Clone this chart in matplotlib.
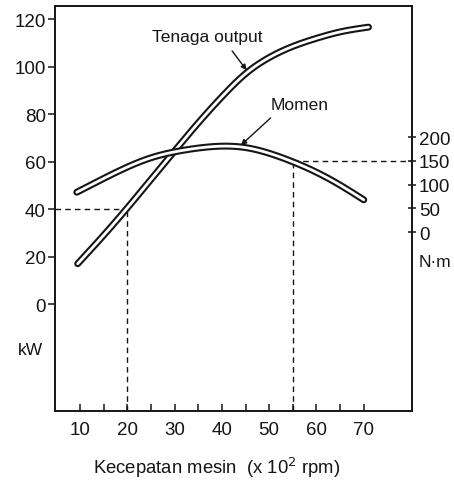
import matplotlib
matplotlib.use("Agg")
import matplotlib.pyplot as plt
import numpy as np

plt.rcParams['font.family'] = ['Liberation Sans', 'DejaVu Sans']

# Data
rpm_power = [9.5, 15, 20, 25, 30, 35, 40, 45, 50, 55, 60, 65, 71]
power_kw = [17, 29, 40.5, 52.5, 64.5, 76.3, 87.3, 97, 103.8, 108.5, 111.9, 114.6, 116.6]

rpm_torque = [9.3, 15, 20, 25, 30, 35, 40, 45, 50, 55, 60, 65, 70]
torque_nm = [84, 113, 137, 156.5, 169, 177, 181, 178, 166, 148, 126, 99, 68]

x_ticks = [10, 20, 30, 40, 50, 60, 70]
x_minor = [15, 25, 35, 45, 55, 65]
kw_ticks = [0, 20, 40, 60, 80, 100, 120]
nm_ticks = [0, 50, 100, 150, 200]

ref_rpm_low, ref_kw = 20, 40
ref_rpm_high, ref_nm = 55, 150

KW_LIM = (-45, 125.5)
NM_OFFSET_KW = 30.3   # kW value where 0 N·m lies
KW_PER_NM = 0.2

ink = '#151515'

fig = plt.figure(figsize=(4.54, 4.81), dpi=100)
ax = fig.add_axes([55/454, 1-412/481, (412-55)/454, (412-7)/481])
ax2 = ax.twinx()

ax.set_xlim(4.7, 80.2)
ax.set_ylim(*KW_LIM)
ax2.set_ylim((KW_LIM[0]-NM_OFFSET_KW)/KW_PER_NM, (KW_LIM[1]-NM_OFFSET_KW)/KW_PER_NM)


def spline(xs, ys, n=300):
    """Natural cubic spline through the read points (for a smooth drawn curve)."""
    x = np.asarray(xs, float); y = np.asarray(ys, float)
    m = len(x)
    h = np.diff(x)
    A = np.zeros((m, m)); r = np.zeros(m)
    A[0, 0] = A[-1, -1] = 1
    for i in range(1, m-1):
        A[i, i-1] = h[i-1]; A[i, i] = 2*(h[i-1]+h[i]); A[i, i+1] = h[i]
        r[i] = 3*((y[i+1]-y[i])/h[i] - (y[i]-y[i-1])/h[i-1])
    c = np.linalg.solve(A, r)
    b = (y[1:]-y[:-1])/h - h*(2*c[:-1]+c[1:])/3
    d = (c[1:]-c[:-1])/(3*h)
    t = np.linspace(x[0], x[-1], n)
    idx = np.clip(np.searchsorted(x, t) - 1, 0, m-2)
    dt = t - x[idx]
    return t, y[idx] + b[idx]*dt + c[idx]*dt**2 + d[idx]*dt**3


def tube(a, x, y):
    a.plot(x, y, color=ink, lw=5.0, solid_capstyle='round', solid_joinstyle='round', zorder=3)
    a.plot(x, y, color='white', lw=2.0, solid_capstyle='round', solid_joinstyle='round', zorder=4)


tx, ty = spline(rpm_power, power_kw)
tube(ax, tx, ty)
mx, my = spline(rpm_torque, torque_nm)
tube(ax2, mx, my)

# dashed reference lines
dash = dict(color=ink, lw=1.0, dashes=(4, 3), zorder=2)
ax.plot([ax.get_xlim()[0], ref_rpm_low], [ref_kw, ref_kw], **dash)
ax.plot([ref_rpm_low, ref_rpm_low], [KW_LIM[0], ref_kw], **dash)
ax2.plot([ref_rpm_high, ax.get_xlim()[1]], [ref_nm, ref_nm], **dash)
ax2.plot([ref_rpm_high, ref_rpm_high], [ax2.get_ylim()[0], ref_nm], **dash)

# ticks
ax.set_xticks(x_ticks)
ax.set_xticks(x_minor, minor=True)
ax.tick_params(axis='x', which='both', direction='in', length=5, width=1.1, pad=7,
               labelsize=13.5, colors=ink, top=False)
ax.set_yticks(kw_ticks)
ax.tick_params(axis='y', direction='out', length=5, width=1.1, pad=1.5, labelsize=13.5, colors=ink)
ax2.set_yticks(nm_ticks)
ax2.tick_params(axis='y', direction='inout', length=6, width=1.1, pad=2, labelsize=13.5, colors=ink)

for a in (ax, ax2):
    for s in a.spines.values():
        s.set_linewidth(1.2)
        s.set_color(ink)

ax.text(-0.07, 0.153, 'kW', transform=ax.transAxes, fontsize=12.5, ha='center', va='center', color=ink)
ax.text(1.065, 0.368, 'N·m', transform=ax.transAxes, fontsize=12.5, ha='center', va='center', color=ink)
fig.text(217/454, 1-468/481, 'Kecepatan mesin  (x 10$^2$ rpm)', fontsize=13.3,
         ha='center', va='center', color=ink)

# annotations
ax.annotate('Tenaga output', xy=(45.4, 98.0), xytext=(36.8, 112.8),
            fontsize=12.5, ha='center', va='center', color=ink,
            arrowprops=dict(arrowstyle='-|>', color=ink, lw=1.0, mutation_scale=8,
                            shrinkA=4, shrinkB=1, relpos=(0.68, 0.0)), zorder=6)
ax2.annotate('Momen', xy=(43.8, 181), xytext=(56.5, 268),
             fontsize=12.5, ha='center', va='center', color=ink,
             arrowprops=dict(arrowstyle='-|>', color=ink, lw=1.0, mutation_scale=8,
                             shrinkA=3, shrinkB=1, relpos=(0.1, 0.0)), zorder=6)

fig.savefig('out.png', dpi=100)
